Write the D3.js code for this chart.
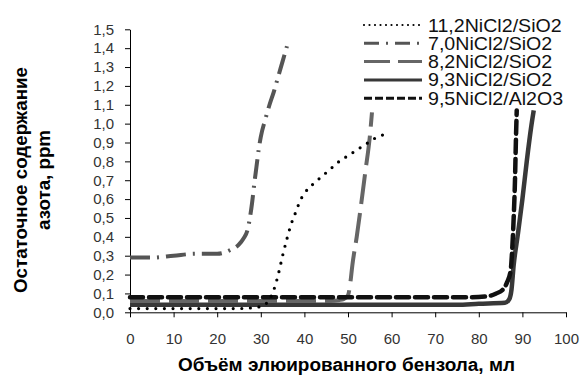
<!DOCTYPE html>
<html>
<head>
<meta charset="utf-8">
<script src="https://cdn.jsdelivr.net/npm/d3@7"></script>
<style>
  body { margin: 0; background: #fff; }
  svg { display: block; font-family: "Liberation Sans", Arial, sans-serif; }
</style>
</head>
<body>
<div id="chart"></div>
<script>
// series: [volume ml, residual N ppm]
const s112 = [[0,0.02],[10,0.02],[20,0.02],[25,0.02],[30,0.03],[32,0.07],[33,0.12],[34,0.2],[35,0.3],[36,0.39],[37,0.47],[38,0.53],[39,0.59],[40,0.63],[42,0.68],[44,0.72],[46,0.76],[48,0.8],[50,0.83],[52,0.86],[54,0.89],[56,0.92],[58,0.94]];
const s70 = [[0,0.29],[5,0.29],[10,0.3],[15,0.31],[20,0.31],[23,0.33],[25,0.36],[26,0.39],[27,0.44],[27.5,0.5],[28,0.58],[28.5,0.68],[29,0.77],[29.5,0.86],[30,0.93],[31,1.02],[32,1.1],[33,1.17],[34,1.25],[35,1.33],[36,1.41]];
const s82 = [[0,0.06],[10,0.06],[20,0.06],[30,0.06],[40,0.06],[46,0.06],[48,0.065],[49,0.07],[50,0.09],[50.5,0.15],[51,0.25],[52,0.4],[53,0.57],[54,0.75],[55,0.93],[55.5,1.06]];
const s93 = [[0,0.04],[20,0.04],[40,0.04],[60,0.04],[75,0.04],[80,0.045],[86,0.05],[87,0.07],[87.5,0.12],[88,0.25],[89,0.42],[90,0.6],[91,0.8],[92,0.98],[92.6,1.07]];
const s95 = [[0,0.08],[20,0.08],[40,0.08],[60,0.08],[78,0.08],[82,0.085],[84,0.1],[85.5,0.12],[86.5,0.16],[87.3,0.22],[87.7,0.35],[88,0.5],[88.3,0.7],[88.5,0.9],[88.7,1.07]];

const seriesNames = ["11,2NiCl2/SiO2", "7,0NiCl2/SiO2", "8,2NiCl2/SiO2", "9,3NiCl2/SiO2", "9,5NiCl2/Al2O3"];
const xTicks = [0,10,20,30,40,50,60,70,80,90,100];
const yTicks = [0,0.1,0.2,0.3,0.4,0.5,0.6,0.7,0.8,0.9,1.0,1.1,1.2,1.3,1.4,1.5];

const width = 582, height = 376;
const x = d3.scaleLinear().domain([0, 100]).range([130, 566]);
const y = d3.scaleLinear().domain([0, 1.5]).range([312.3, 29.3]);

const styles = [
  { color: '#000', w: 3.2, dash: '0,8.6', cap: 'round' },
  { color: '#555', w: 4, dash: '20,7,2,7', cap: 'butt' },
  { color: '#666', w: 4, dash: '30,9', cap: 'butt' },
  { color: '#383838', w: 4.5, dash: null, cap: 'butt' },
  { color: '#111', w: 4.5, dash: '13,6', cap: 'round' }
];
const legendStyles = [
  { color: '#000', w: 2.2, dash: '0,5.5', cap: 'round' },
  { color: '#555', w: 3, dash: '15,7,2,7', cap: 'butt' },
  { color: '#666', w: 3, dash: '26,8', cap: 'butt' },
  { color: '#383838', w: 3, dash: null, cap: 'butt' },
  { color: '#111', w: 3, dash: '8,3', cap: 'butt' }
];

const svg = d3.select('#chart').append('svg').attr('width', width).attr('height', height);

// axes
svg.append('g').attr('transform', 'translate(0,312.3)')
  .call(d3.axisBottom(x).tickValues(xTicks).tickSize(5).tickSizeOuter(0).tickFormat(d => d))
  .call(g => g.selectAll('text').attr('font-size', 15).attr('fill', '#333').attr('dy', '1.55em'))
  .call(g => g.selectAll('line,path').attr('stroke', '#000'));

svg.append('g').attr('transform', 'translate(130,0)')
  .call(d3.axisLeft(y).tickValues(yTicks).tickSize(5).tickSizeOuter(0).tickFormat(d => d3.format('.1f')(d).replace('.', ',')))
  .call(g => g.selectAll('text').attr('font-size', 15).attr('fill', '#333').attr('x', -16))
  .call(g => g.selectAll('line,path').attr('stroke', '#000'));
svg.selectAll('.domain').attr('stroke-width', 1);

// lines
const line = d3.line().x(d => x(d[0])).y(d => y(d[1])).curve(d3.curveMonotoneX);
const allSeries = [s112, s70, s82, s93, s95];
const drawOrder = [3, 2, 4, 1, 0];
drawOrder.forEach(i => {
  const st = styles[i];
  svg.append('path').datum(allSeries[i])
    .attr('d', line)
    .attr('fill', 'none')
    .attr('stroke', st.color)
    .attr('stroke-width', st.w)
    .attr('stroke-dasharray', st.dash)
    .attr('stroke-linecap', st.cap)
    .attr('stroke-linejoin', 'round');
});

// legend
const leg = svg.append('g');
seriesNames.forEach((name, i) => {
  const cy = 25 + i * 18.3;
  const st = legendStyles[i];
  leg.append('line').attr('x1', 364).attr('x2', 422).attr('y1', cy).attr('y2', cy)
    .attr('stroke', st.color).attr('stroke-width', st.w)
    .attr('stroke-dasharray', st.dash).attr('stroke-linecap', st.cap);
  leg.append('text').attr('transform', `translate(428,${cy + 6.5}) scale(1.09,1)`)
    .attr('font-size', 18).attr('fill', '#111').text(name);
});

// titles
svg.append('text').attr('x', 178).attr('y', 371)
  .attr('textLength', 337).attr('lengthAdjust', 'spacingAndGlyphs')
  .attr('font-size', 18).attr('font-weight', 'bold').attr('fill', '#000')
  .text('Объём элюированного бензола, мл');

const yt = svg.append('g').attr('transform', 'translate(0,180) rotate(-90)');
yt.append('text').attr('x', -113).attr('y', 27)
  .attr('textLength', 226).attr('lengthAdjust', 'spacingAndGlyphs')
  .attr('font-size', 18).attr('font-weight', 'bold').attr('fill', '#000')
  .text('Остаточное содержание');
yt.append('text').attr('x', -50).attr('y', 50)
  .attr('textLength', 100).attr('lengthAdjust', 'spacingAndGlyphs')
  .attr('font-size', 18).attr('font-weight', 'bold').attr('fill', '#000')
  .text('азота, ppm');
</script>
</body>
</html>
